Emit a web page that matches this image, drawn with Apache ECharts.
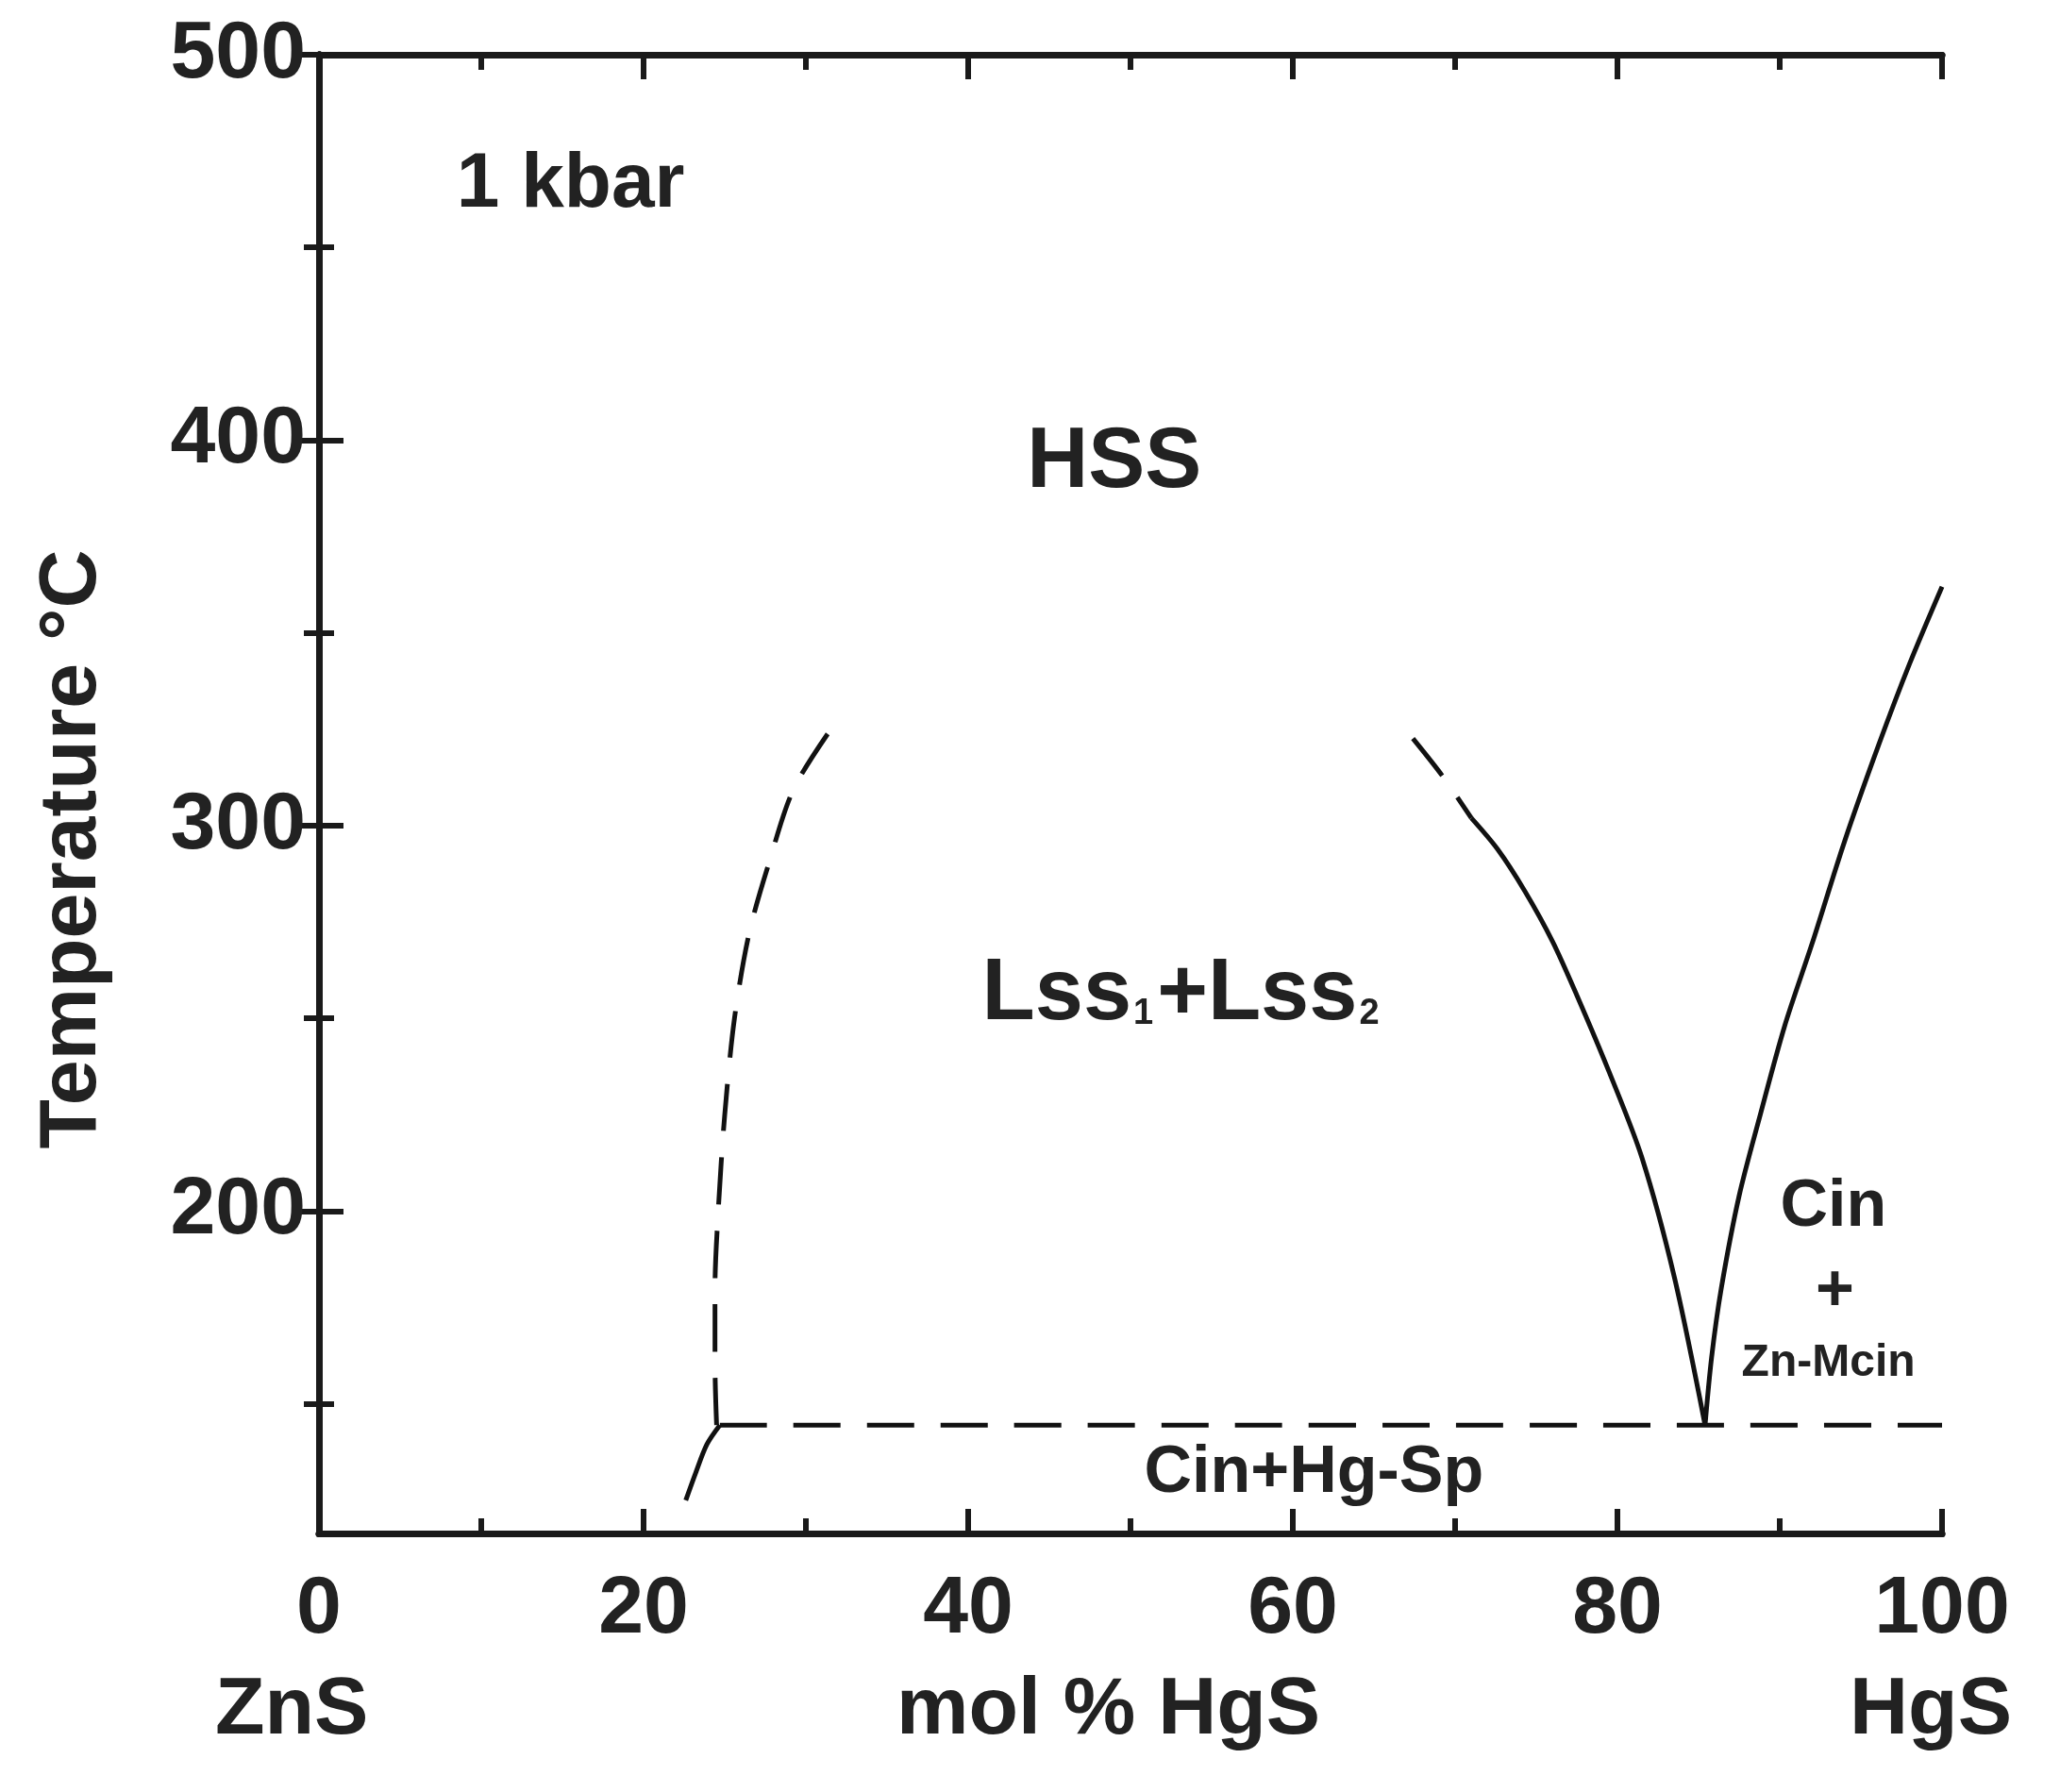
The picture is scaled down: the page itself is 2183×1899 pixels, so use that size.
<!DOCTYPE html>
<html>
<head>
<meta charset="utf-8">
<script src="https://cdn.jsdelivr.net/npm/echarts@6/dist/echarts.min.js"></script>
<style>html,body{margin:0;padding:0;background:#fff}#chart{width:2183px;height:1899px}</style>
</head>
<body>
<div id="chart"></div>
<script>
// phase boundaries: [mol % HgS, T °C]
const leftFoot = [[22.6, 125], [23.2, 132], [23.9, 139.5], [24.7, 144.5]];
const leftSolvus = [[24.5, 144.5], [24.4, 160], [24.4, 180], [24.6, 200], [25, 225], [25.6, 250], [26.5, 272], [27.7, 290], [29.3, 310], [32.2, 329]];
const eutectic = [[24.7, 144.5], [100, 144.5]];
const rightSolvusDash = [[67.4, 322.6], [69.2, 313], [71, 302]];
const rightSolvus = [[71, 302], [72.6, 294], [74.3, 283], [76, 270], [77.5, 256], [79.5, 236], [81.5, 214], [83.5, 183], [85.4, 144.5]];
const cinLiquidus = [[85.4, 144.5], [85.8, 162], [86.4, 180], [87.5, 204], [88.8, 225], [90.3, 248], [92, 269.5], [94, 296], [96.1, 321], [98, 342], [100, 362]];
const yMajor = [200, 300, 400, 500];
const yMinor = [150, 250, 350, 450];
const xMajor = [0, 20, 40, 60, 80, 100];
const xMinor = [10, 30, 50, 70, 90];
const regionLabels = [
  { name: '1 kbar', value: [15.5, 466], size: 82 },
  { name: 'HSS', value: [49, 394], size: 90 },
  { name: '{a|Lss}{s|1}{a|+Lss}{s|2}', value: [53.2, 256], size: 92 },
  { name: 'Cin+Hg-Sp', value: [61.3, 132], size: 70 },
  { name: 'Cin', value: [93.3, 201], size: 70 },
  { name: '+', value: [93.4, 179], size: 70 },
  { name: 'Zn-Mcin', value: [93.0, 160.5], size: 48 }
];

const font = 'Liberation Sans, Arial, sans-serif';
const ink = '#222';
const chart = echarts.init(document.getElementById('chart'));
const axisLine = { show: true, lineStyle: { color: '#1a1a1a', width: 7 } };
function xAx(pos, vals, len, labels) {
  return {
    type: 'value', min: 0, max: 100, position: pos, splitLine: { show: false },
    axisLine: axisLine,
    axisTick: { show: true, inside: true, length: len, customValues: vals, lineStyle: { width: 6, color: '#1a1a1a' } },
    axisLabel: { show: labels, customValues: vals, margin: 38, fontSize: 86, fontWeight: 'bold', color: ink, fontFamily: font }
  };
}
function yAx(pos, vals, len, labels) {
  return {
    type: 'value', min: 116.4, max: 500, position: pos, splitLine: { show: false },
    axisLine: axisLine,
    axisTick: { show: true, inside: true, length: len, customValues: vals, lineStyle: { width: 6, color: '#1a1a1a' } },
    axisLabel: { show: labels, customValues: vals, margin: 14, fontSize: 86, fontWeight: 'bold', color: ink, fontFamily: font }
  };
}
function line(data, dashed) {
  return {
    type: 'line', data: data, smooth: 0.3, symbol: 'none', silent: true,
    lineStyle: { color: '#111', width: 5, type: dashed ? [50, 28] : 'solid' }
  };
}
chart.setOption({
  animation: false,
  grid: { left: 338, right: 125, top: 58, bottom: 274 },
  xAxis: [xAx('bottom', xMajor, 26, true), xAx('bottom', xMinor, 16, false), xAx('top', xMajor, 26, false), xAx('top', xMinor, 16, false)],
  yAxis: [yAx('left', yMajor, 26, true), yAx('left', yMinor, 16, false), yAx('right', yMajor, 26, false), yAx('right', yMinor, 16, false)],
  series: [
    line(leftFoot, false), line(leftSolvus, true), line(eutectic, true),
    line(rightSolvusDash, true), line(rightSolvus, false), line(cinLiquidus, false)
  ]
});

const graphics = regionLabels.map(d => {
  const p = chart.convertToPixel({ xAxisIndex: 0, yAxisIndex: 0 }, d.value);
  return {
    type: 'text', x: p[0], y: p[1], silent: true,
    style: {
      text: d.name, fontSize: d.size, fontWeight: 'bold', fill: ink, fontFamily: font,
      align: 'center', verticalAlign: 'middle',
      rich: {
        a: { fontSize: d.size, fontWeight: 'bold', fill: ink, fontFamily: font },
        s: { fontSize: 38, fontWeight: 'bold', fill: ink, fontFamily: font, padding: [40, 4, 0, 2] }
      }
    }
  };
});
graphics.push(
  { type: 'text', left: 228, top: 1770, style: { text: 'ZnS', fontSize: 86, fontWeight: 'bold', fill: ink, fontFamily: font } },
  { type: 'text', left: 950, top: 1770, style: { text: 'mol % HgS', fontSize: 86, fontWeight: 'bold', fill: ink, fontFamily: font } },
  { type: 'text', left: 1960, top: 1770, style: { text: 'HgS', fontSize: 86, fontWeight: 'bold', fill: ink, fontFamily: font } },
  { type: 'text', x: 77, y: 900, rotation: Math.PI / 2, style: { text: 'Temperature °C', fontSize: 86, fontWeight: 'bold', fill: ink, fontFamily: font, align: 'center', verticalAlign: 'middle' } }
);
chart.setOption({ graphic: graphics });
</script>
</body>
</html>
